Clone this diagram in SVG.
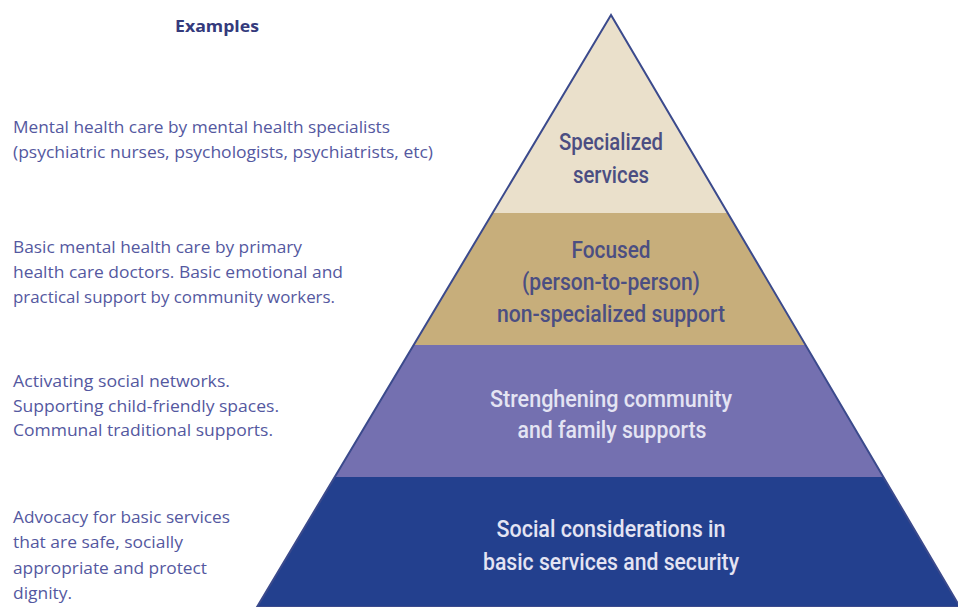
<svg xmlns="http://www.w3.org/2000/svg" width="958" height="607" viewBox="0 0 958 607">
  <style>
    .ex { font-family: "Open Sans", Lato, sans-serif; font-size: 16px; font-weight: 500; fill: #5458a0; }
    .head { font-family: "Open Sans", Lato, sans-serif; font-size: 16px; font-weight: 700; fill: #343a7c; }
    .lbl { font-family: Roboto, "Liberation Sans", sans-serif; font-size: 23px; font-weight: 500; text-anchor: middle; }
    .dark { fill: #4b4e82; }
    .light { fill: #e4e4f3; }
  </style>
  <defs>
    <clipPath id="pyr">
      <polygon points="611,15 257,607 960,607"/>
    </clipPath>
  </defs>

  <rect width="958" height="607" fill="#ffffff"/>

  <!-- pyramid layers -->
  <g id="pyramid" clip-path="url(#pyr)">
    <g id="layer-specialized"><rect x="200" y="0" width="800" height="213" fill="#eae0cb"/></g>
    <g id="layer-focused"><rect x="200" y="213" width="800" height="132" fill="#c7ae7b"/></g>
    <g id="layer-community"><rect x="200" y="345" width="800" height="132" fill="#7470b0"/></g>
    <g id="layer-basic"><rect x="200" y="477" width="800" height="130" fill="#23408e"/></g>
  </g>
  <polygon points="611,15 257,607 960,607" fill="none" stroke="#3b4a8c" stroke-width="2" stroke-linejoin="miter"/>

  <!-- layer labels -->
  <g id="labels">
    <text class="lbl dark" x="611" y="150" textLength="104" lengthAdjust="spacingAndGlyphs">Specialized</text>
    <text class="lbl dark" x="611" y="183" textLength="76" lengthAdjust="spacingAndGlyphs">services</text>
    <text class="lbl dark" x="611" y="258" textLength="79" lengthAdjust="spacingAndGlyphs">Focused</text>
    <text class="lbl dark" x="611" y="290" textLength="178" lengthAdjust="spacingAndGlyphs">(person-to-person)</text>
    <text class="lbl dark" x="611" y="322" textLength="228" lengthAdjust="spacingAndGlyphs">non-specialized support</text>
    <text class="lbl light" x="611" y="407" textLength="242" lengthAdjust="spacingAndGlyphs">Strenghening community</text>
    <text class="lbl light" x="612" y="438" textLength="189" lengthAdjust="spacingAndGlyphs">and family supports</text>
    <text class="lbl light" x="611" y="537" textLength="229" lengthAdjust="spacingAndGlyphs">Social considerations in</text>
    <text class="lbl light" x="611" y="570" textLength="256" lengthAdjust="spacingAndGlyphs">basic services and security</text>
  </g>

  <!-- examples column -->
  <g id="examples">
    <text class="head" x="175" y="32" textLength="84" lengthAdjust="spacingAndGlyphs">Examples</text>
    <text class="ex" x="13" y="133" textLength="377" lengthAdjust="spacingAndGlyphs">Mental health care by mental health specialists</text>
    <text class="ex" x="13" y="158" textLength="420" lengthAdjust="spacingAndGlyphs">(psychiatric nurses, psychologists, psychiatrists, etc)</text>
    <text class="ex" x="13" y="253" textLength="289" lengthAdjust="spacingAndGlyphs">Basic mental health care by primary</text>
    <text class="ex" x="13" y="278" textLength="330" lengthAdjust="spacingAndGlyphs">health care doctors. Basic emotional and</text>
    <text class="ex" x="13" y="303" textLength="322" lengthAdjust="spacingAndGlyphs">practical support by community workers.</text>
    <text class="ex" x="13" y="387" textLength="217" lengthAdjust="spacingAndGlyphs">Activating social networks.</text>
    <text class="ex" x="13" y="412" textLength="266" lengthAdjust="spacingAndGlyphs">Supporting child-friendly spaces.</text>
    <text class="ex" x="13" y="436" textLength="260" lengthAdjust="spacingAndGlyphs">Communal traditional supports.</text>
    <text class="ex" x="13" y="523" textLength="217" lengthAdjust="spacingAndGlyphs">Advocacy for basic services</text>
    <text class="ex" x="13" y="548" textLength="170" lengthAdjust="spacingAndGlyphs">that are safe, socially</text>
    <text class="ex" x="13" y="574" textLength="194" lengthAdjust="spacingAndGlyphs">appropriate and protect</text>
    <text class="ex" x="13" y="599" textLength="59" lengthAdjust="spacingAndGlyphs">dignity.</text>
  </g>
</svg>
